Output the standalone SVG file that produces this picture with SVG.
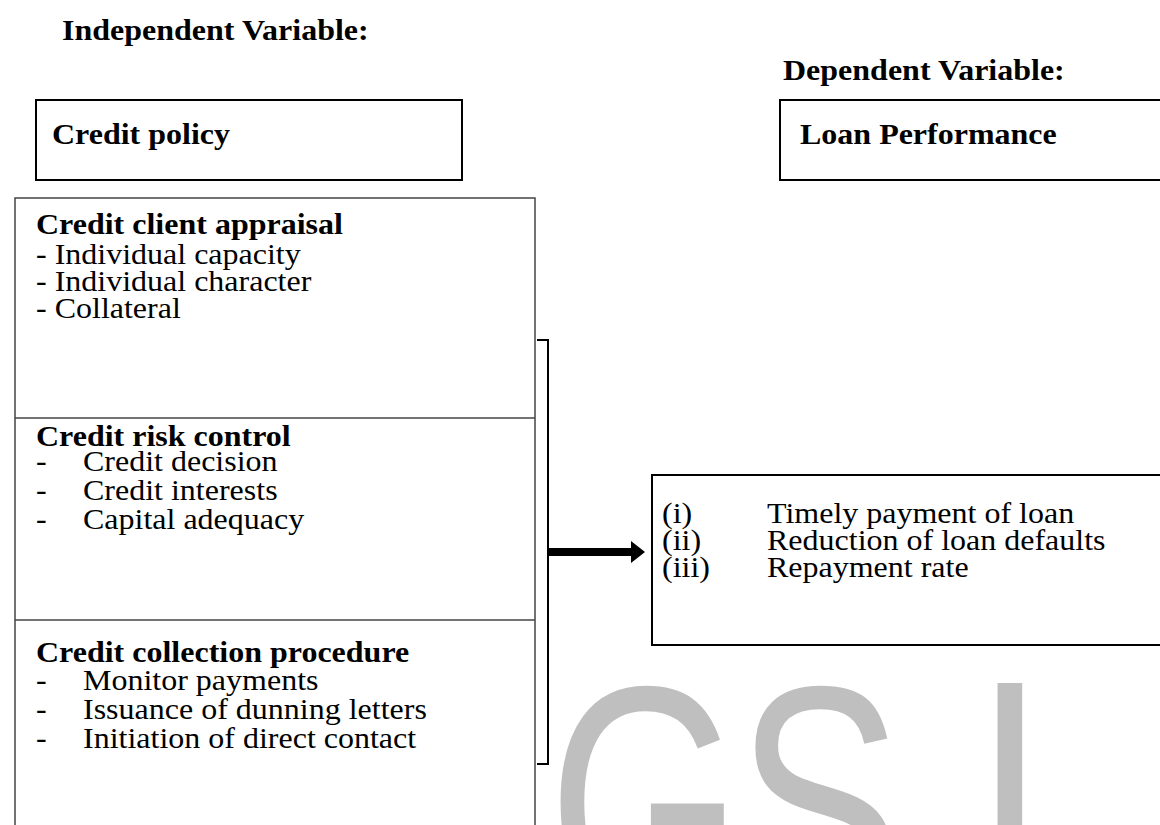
<svg xmlns="http://www.w3.org/2000/svg" width="1160" height="825" viewBox="0 0 1160 825">
<defs>
<style>
.t{font-family:"Liberation Serif","Times New Roman",serif;font-size:32px;fill:#000}
.b{font-weight:bold}
.box{fill:none;stroke:#000;stroke-width:2}
.gbox{fill:none;stroke:#444;stroke-width:1.5}
.wm{font-family:"Liberation Sans",Arial,sans-serif;font-size:250px;fill:#bfbfbf}
.wmj{font-family:"DejaVu Sans",sans-serif;font-size:250px;fill:#bfbfbf}
</style>
</defs>
<rect width="1160" height="825" fill="#fff"/>
<g id="watermark">
<text class="wm" transform="translate(548,918) scale(1,1.33)">G</text>
<text class="wm" transform="translate(736,918) scale(1,1.33)">S</text>
<text class="wmj" transform="translate(973,920) scale(1,1.3)">J</text>
</g>
<g id="headings">
<text class="t b" transform="translate(62,40) scale(1,0.9)">Independent Variable:</text>
<text class="t b" transform="translate(783,80) scale(1,0.9)">Dependent Variable:</text>
</g>
<g id="node-credit-policy">
<rect class="box" x="36" y="100" width="426" height="80"/>
<text class="t b" transform="translate(52,144) scale(1,0.9)">Credit policy</text>
</g>
<g id="node-loan-performance">
<rect class="box" x="780" y="100" width="420" height="80"/>
<text class="t b" transform="translate(800,144) scale(1,0.9)">Loan Performance</text>
</g>
<g id="node-factors">
<rect class="gbox" x="15" y="198" width="520" height="660"/>
<line class="gbox" x1="15" y1="418" x2="535" y2="418"/>
<line class="gbox" x1="15" y1="620" x2="535" y2="620"/>
<g id="node-appraisal">
<text class="t b" transform="translate(36,234) scale(1,0.9)">Credit client appraisal</text>
<text class="t" transform="translate(36,264) scale(1,0.9)">- Individual capacity</text>
<text class="t" transform="translate(36,291) scale(1,0.9)">- Individual character</text>
<text class="t" transform="translate(36,318) scale(1,0.9)">- Collateral</text>
</g>
<g id="node-risk">
<text class="t b" transform="translate(36,446) scale(1,0.9)">Credit risk control</text>
<text class="t" transform="translate(36,471) scale(1,0.9)">-</text><text class="t" transform="translate(83,471) scale(1,0.9)">Credit decision</text>
<text class="t" transform="translate(36,500) scale(1,0.9)">-</text><text class="t" transform="translate(83,500) scale(1,0.9)">Credit interests</text>
<text class="t" transform="translate(36,529) scale(1,0.9)">-</text><text class="t" transform="translate(83,529) scale(1,0.9)">Capital adequacy</text>
</g>
<g id="node-collection">
<text class="t b" transform="translate(36,662) scale(1,0.9)">Credit collection procedure</text>
<text class="t" transform="translate(36,690) scale(1,0.9)">-</text><text class="t" transform="translate(83,690) scale(1,0.9)">Monitor payments</text>
<text class="t" transform="translate(36,719) scale(1,0.9)">-</text><text class="t" transform="translate(83,719) scale(1,0.9)">Issuance of dunning letters</text>
<text class="t" transform="translate(36,748) scale(1,0.9)">-</text><text class="t" transform="translate(83,748) scale(1,0.9)">Initiation of direct contact</text>
</g>
</g>
<g id="node-outcomes">
<rect class="box" x="652" y="475" width="540" height="170" stroke-width="1.5"/>
<text class="t" transform="translate(662,523) scale(1,0.9)">(i)</text><text class="t" transform="translate(767,523) scale(1,0.9)">Timely payment of loan</text>
<text class="t" transform="translate(662,550) scale(1,0.9)">(ii)</text><text class="t" transform="translate(767,550) scale(1,0.9)">Reduction of loan defaults</text>
<text class="t" transform="translate(662,577) scale(1,0.9)">(iii)</text><text class="t" transform="translate(767,577) scale(1,0.9)">Repayment rate</text>
</g>
<g id="connectors">
<path d="M537 340 H548 V764 H537" fill="none" stroke="#000" stroke-width="2"/>
<path d="M548 548 H631 V541 L645 552 L631 563 V556 H548 Z" fill="#000"/>
</g>
</svg>
